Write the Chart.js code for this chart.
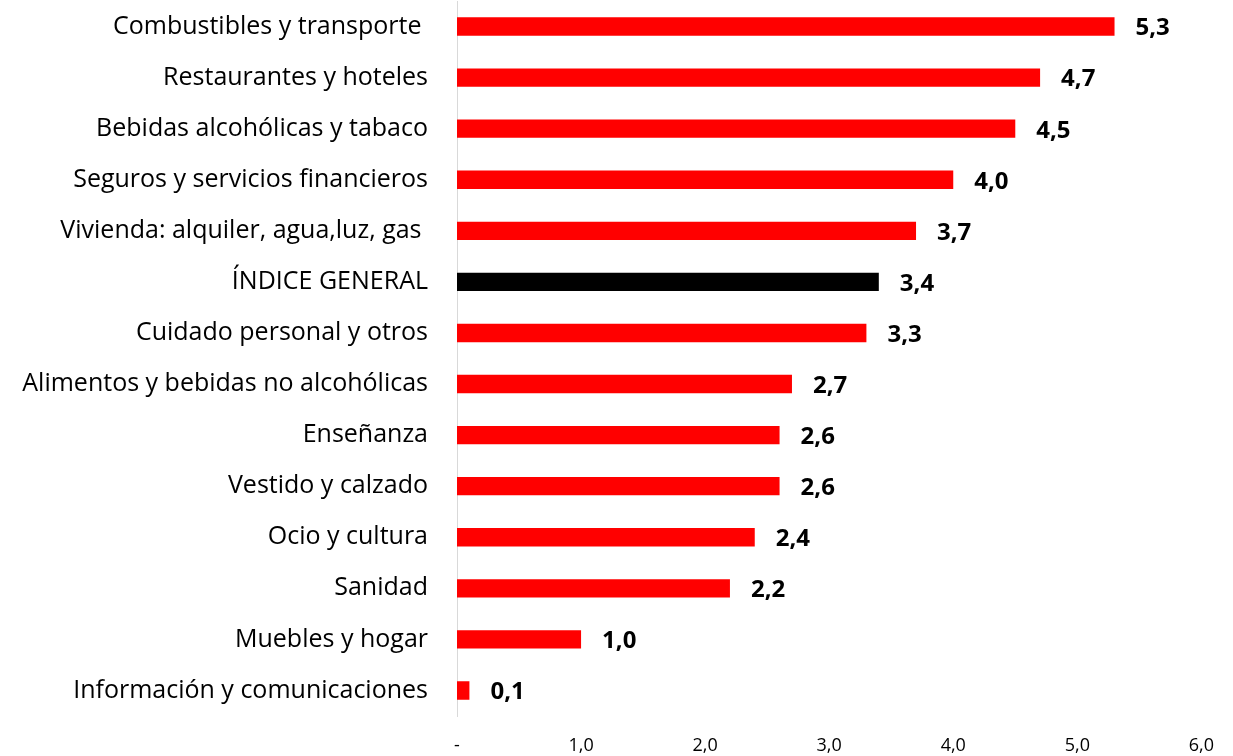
<!DOCTYPE html>
<html>
<head>
<meta charset="utf-8">
<script src="https://cdn.jsdelivr.net/npm/chart.js@4.4.0/dist/chart.umd.min.js"></script>
<style>
  html, body { margin: 0; padding: 0; background: #fff; }
  #wrap { width: 1233px; height: 756px; position: relative; }
</style>
</head>
<body>
<div id="wrap"><canvas id="chart"></canvas></div>
<script>
const categories = [
    'Combustibles y transporte ',
    'Restaurantes y hoteles',
    'Bebidas alcohólicas y tabaco',
    'Seguros y servicios financieros',
    'Vivienda: alquiler, agua,luz, gas ',
    'ÍNDICE GENERAL',
    'Cuidado personal y otros',
    'Alimentos y bebidas no alcohólicas',
    'Enseñanza',
    'Vestido y calzado',
    'Ocio y cultura',
    'Sanidad',
    'Muebles y hogar',
    'Información y comunicaciones'
];
const values = [5.3, 4.7, 4.5, 4.0, 3.7, 3.4, 3.3, 2.7, 2.6, 2.6, 2.4, 2.2, 1.0, 0.1];
const highlight = 'ÍNDICE GENERAL';
const xTicks = [0, 1, 2, 3, 4, 5, 6];

const fmt = v => v.toFixed(1).replace('.', ',');
const FONT = '"Open Sans", Lato, sans-serif';

const valueLabels = {
    id: 'valueLabels',
    afterDatasetsDraw(chart) {
        const ctx = chart.ctx;
        const meta = chart.getDatasetMeta(0);
        ctx.save();
        ctx.font = `bold 24px ${FONT}`;
        ctx.fillStyle = '#000';
        ctx.textAlign = 'left';
        ctx.textBaseline = 'middle';
        meta.data.forEach((bar, i) => {
            ctx.fillText(fmt(values[i]), bar.x + 21, bar.y + 2);
        });
        ctx.restore();
    }
};

new Chart(document.getElementById('chart'), {
    type: 'bar',
    data: {
        labels: categories,
        datasets: [{
            data: values,
            backgroundColor: categories.map(c => c === highlight ? '#000000' : '#ff0000'),
            categoryPercentage: 1,
            barPercentage: 0.36
        }]
    },
    options: {
        indexAxis: 'y',
        responsive: true,
        maintainAspectRatio: false,
        animation: false,
        layout: { padding: { top: 1, right: 30, left: 0, bottom: 0 } },
        plugins: {
            legend: { display: false },
            tooltip: { enabled: false }
        },
        scales: {
            x: {
                min: 0,
                max: 6,
                afterBuildTicks: scale => { scale.ticks = xTicks.map(v => ({ value: v })); },
                afterFit: scale => { scale.height = 40; },
                grid: { display: false, drawTicks: false },
                border: { display: false },
                ticks: {
                    padding: 19,
                    color: '#000',
                    font: { family: FONT, size: 18 },
                    callback: v => v === 0 ? '-' : fmt(v)
                }
            },
            y: {
                afterFit: scale => {
                    scale.width = 457;
                    scale.paddingTop = 0;
                    scale.paddingBottom = 0;
                },
                grid: { display: false, drawTicks: false },
                border: { display: true, color: '#d9d9d9', width: 1 },
                ticks: {
                    padding: 29,
                    color: '#000',
                    font: { family: FONT, size: 25 }
                }
            }
        }
    },
    plugins: [valueLabels]
});
</script>
</body>
</html>
